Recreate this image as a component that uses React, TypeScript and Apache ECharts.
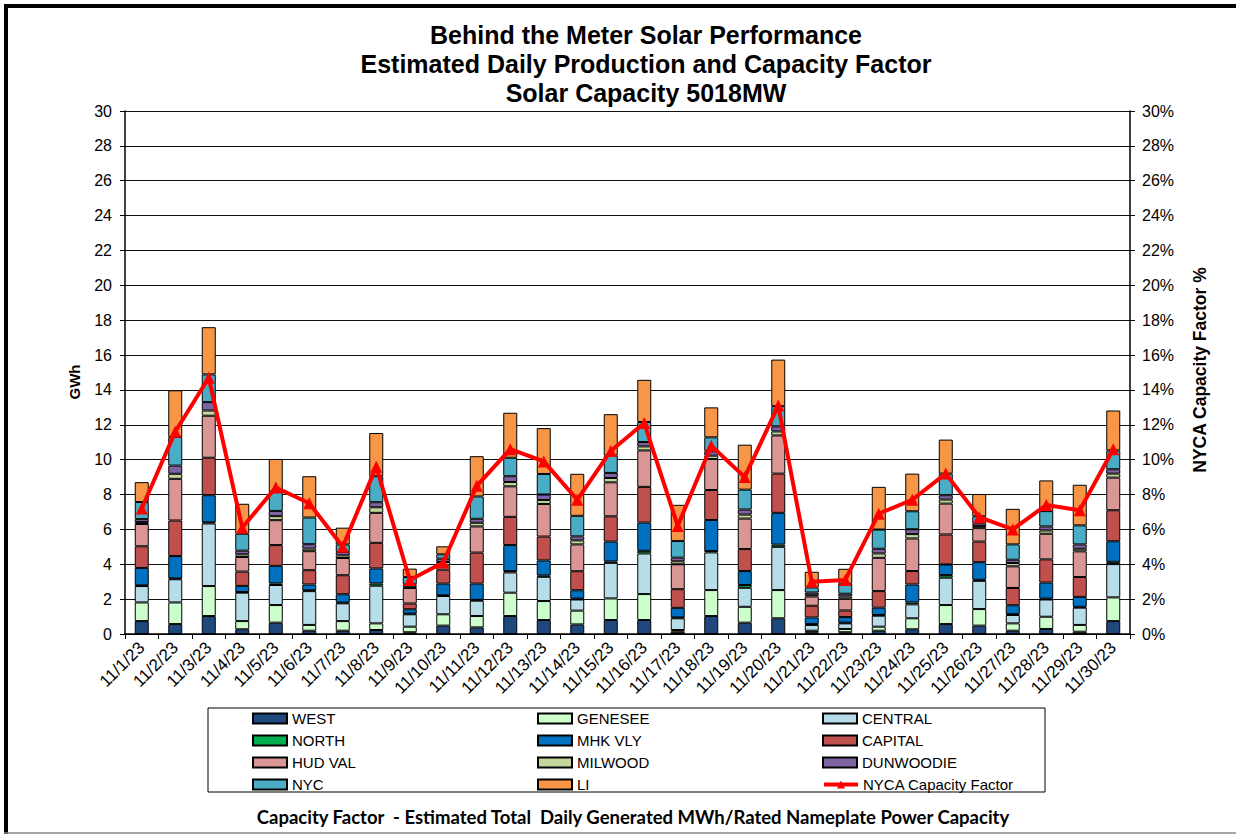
import React, { useEffect, useRef } from "react";
import * as echarts from "echarts";

const categories = [
  "11/1/23","11/2/23","11/3/23","11/4/23","11/5/23","11/6/23","11/7/23","11/8/23","11/9/23","11/10/23",
  "11/11/23","11/12/23","11/13/23","11/14/23","11/15/23","11/16/23","11/17/23","11/18/23","11/19/23","11/20/23",
  "11/21/23","11/22/23","11/23/23","11/24/23","11/25/23","11/26/23","11/27/23","11/28/23","11/29/23","11/30/23",
];

const WEST = [0.74,0.57,1.03,0.27,0.65,0.19,0.19,0.23,0.10,0.48,0.38,1.03,0.80,0.55,0.80,0.80,0.13,1.03,0.65,0.90,0.10,0.10,0.19,0.27,0.57,0.48,0.19,0.29,0.13,0.74];
const GENESEE = [1.07,1.24,1.72,0.47,1.01,0.33,0.55,0.38,0.32,0.65,0.65,1.34,1.09,0.79,1.24,1.49,0.10,1.49,0.91,1.62,0.09,0.19,0.23,0.63,1.09,0.95,0.42,0.70,0.39,1.36];
const CENTRAL = [0.94,1.33,3.59,1.63,1.15,1.94,1.02,2.16,0.71,1.05,0.88,1.16,1.39,0.64,2.04,2.33,0.67,2.16,1.09,2.48,0.33,0.32,0.63,0.80,1.57,1.62,0.48,0.99,0.99,1.91];
const NORTH = [0.04,0.05,0.07,0.04,0.09,0.05,0.04,0.13,0.04,0.04,0.05,0.08,0.08,0.05,0.08,0.15,0.05,0.08,0.16,0.13,0.05,0.04,0.04,0.11,0.15,0.06,0.05,0.05,0.05,0.13];
const MHK_VLY = [1.00,1.28,1.55,0.35,1.01,0.33,0.48,0.86,0.25,0.67,0.93,1.49,0.86,0.48,1.14,1.62,0.55,1.78,0.80,1.82,0.38,0.32,0.42,1.03,0.61,1.01,0.51,0.92,0.57,1.18];
const CAPITAL = [1.24,2.04,2.15,0.82,1.19,0.82,1.09,1.47,0.33,0.80,1.78,1.62,1.37,1.09,1.45,2.05,1.07,1.72,1.26,2.25,0.67,0.38,0.95,0.77,1.72,1.18,0.99,1.33,1.14,1.78];
const HUD_VAL = [1.28,2.39,2.41,0.84,1.43,1.09,0.99,1.72,0.89,0.25,1.50,1.75,1.87,1.54,1.95,2.09,1.43,1.78,1.75,2.19,0.53,0.67,1.91,1.87,1.77,0.77,1.24,1.47,1.47,1.87];
const MILWOOD = [0.11,0.29,0.30,0.15,0.23,0.15,0.15,0.32,0.10,0.19,0.21,0.25,0.23,0.23,0.25,0.23,0.17,0.19,0.23,0.23,0.10,0.13,0.25,0.25,0.23,0.12,0.19,0.19,0.15,0.23];
const DUNWOODIE = [0.17,0.47,0.48,0.21,0.30,0.25,0.19,0.29,0.11,0.19,0.23,0.33,0.31,0.23,0.29,0.25,0.21,0.25,0.29,0.29,0.13,0.16,0.27,0.28,0.25,0.16,0.19,0.23,0.25,0.25];
const NYC = [0.98,1.64,1.59,0.97,1.09,1.53,0.44,1.49,0.42,0.25,1.28,1.06,1.18,1.18,0.99,1.15,0.95,0.80,1.14,1.16,0.29,0.57,1.10,1.03,1.24,0.40,0.88,0.88,1.09,1.08];
const LI = [1.14,2.68,2.71,1.72,1.89,2.37,0.96,2.48,0.48,0.46,2.31,2.58,2.63,2.41,2.38,2.42,2.08,1.72,2.58,2.67,0.90,0.86,2.45,2.16,1.95,1.28,2.04,1.76,2.33,2.29];

const CAPACITY_FACTOR = [7.2,11.6,14.7,6.1,8.4,7.5,5.0,9.6,3.1,4.1,8.5,10.6,9.9,7.7,10.5,12.1,6.2,10.8,9.0,13.1,3.0,3.1,6.9,7.7,9.2,6.7,6.0,7.4,7.1,10.6];

const leftTicks = [0, 30, 2];
const rightTicks = [0, 30, 2];

const zones: [string, number[], string][] = [
  ["WEST", WEST, "#1F497D"],
  ["GENESEE", GENESEE, "#CCFFCC"],
  ["CENTRAL", CENTRAL, "#B7DDE8"],
  ["NORTH", NORTH, "#00B050"],
  ["MHK VLY", MHK_VLY, "#0070C0"],
  ["CAPITAL", CAPITAL, "#C0504D"],
  ["HUD VAL", HUD_VAL, "#DA9694"],
  ["MILWOOD", MILWOOD, "#C3D69B"],
  ["DUNWOODIE", DUNWOODIE, "#8064A2"],
  ["NYC", NYC, "#4BACC6"],
  ["LI", LI, "#F79646"],
];

export default function App() {
  const ref = useRef<HTMLDivElement>(null);
  useEffect(() => {
    document.body.style.margin = "0";
    if (!ref.current) return;
    const chart = echarts.init(ref.current, undefined, { renderer: "svg" });
    const font = "Arial, 'Liberation Sans', sans-serif";
    const barSeries = zones.map(([name, data, color]) => ({
      name,
      type: "bar",
      stack: "total",
      data,
      barWidth: 14,
      yAxisIndex: 0,
      itemStyle: { color, borderColor: "#000", borderWidth: 1 },
    }));
    chart.setOption({
      animation: false,
      backgroundColor: "#fff",
      textStyle: { fontFamily: font },
      grid: { left: 125, right: 106, top: 111, bottom: 200, containLabel: false },
      xAxis: {
        type: "category",
        data: categories,
        axisLine: { lineStyle: { color: "#000", width: 1.5 } },
        axisTick: { show: true, length: 5, lineStyle: { color: "#000" } },
        axisLabel: { interval: 0, rotate: 45, fontSize: 17, color: "#000", margin: 11, fontFamily: font },
      },
      yAxis: [
        {
          type: "value",
          min: leftTicks[0],
          max: leftTicks[1],
          interval: leftTicks[2],
          axisLine: { show: true, lineStyle: { color: "#000", width: 1.5 } },
          axisTick: { show: true, length: 5, lineStyle: { color: "#000" } },
          axisLabel: { fontSize: 16, color: "#000", margin: 13, fontFamily: font },
          splitLine: { show: true, lineStyle: { color: "#111", width: 1 } },
        },
        {
          type: "value",
          min: rightTicks[0],
          max: rightTicks[1],
          interval: rightTicks[2],
          position: "right",
          axisLine: { show: true, lineStyle: { color: "#000", width: 1.5 } },
          axisTick: { show: true, length: 5, lineStyle: { color: "#000" } },
          axisLabel: { fontSize: 16, color: "#000", margin: 12, formatter: "{value}%", fontFamily: font },
          splitLine: { show: false },
        },
      ],
      legend: {
        left: 252,
        top: 711,
        width: 870,
        orient: "horizontal",
        itemWidth: 34,
        itemHeight: 10,
        itemGap: 7,
        padding: 0,
        textStyle: { fontSize: 15, color: "#000", width: 238, lineHeight: 12, fontFamily: font },
        data: [
          ...zones.map((z) => ({ name: z[0], icon: "rect" })),
          { name: "NYCA Capacity Factor", lineStyle: { width: 4 } },
        ],
      },
      series: [
        ...barSeries,
        {
          name: "NYCA Capacity Factor",
          type: "line",
          yAxisIndex: 1,
          data: CAPACITY_FACTOR,
          symbol: "triangle",
          symbolSize: 12,
          lineStyle: { color: "#FF0000", width: 4 },
          itemStyle: { color: "#FF0000" },
          z: 10,
        },
      ],
      graphic: [
        { type: "line", shape: { x1: 6, y1: 4, x2: 6, y2: 834 }, style: { stroke: "#000", lineWidth: 4 } },
        { type: "line", shape: { x1: 4, y1: 6, x2: 1236, y2: 6 }, style: { stroke: "#000", lineWidth: 4 } },
        { type: "line", shape: { x1: 4, y1: 833, x2: 1236, y2: 833 }, style: { stroke: "#888", lineWidth: 1.5 } },
        {
          type: "rect",
          shape: { x: 208, y: 708, width: 837, height: 84 },
          style: { fill: "none", stroke: "#000", lineWidth: 1 },
          z: -1,
        },
        {
          type: "text",
          x: 646,
          y: 20,
          style: {
            text: "Behind the Meter Solar Performance\nEstimated Daily Production and Capacity Factor\nSolar Capacity 5018MW",
            font: `bold 25px ${font}`,
            fill: "#000",
            align: "center",
            verticalAlign: "top",
            lineHeight: 29,
          },
        },
        {
          type: "text",
          x: 74,
          y: 382,
          rotation: Math.PI / 2,
          style: { text: "GWh", font: `bold 15px ${font}`, fill: "#000", align: "center", verticalAlign: "middle" },
        },
        {
          type: "text",
          x: 1200,
          y: 370,
          rotation: Math.PI / 2,
          style: { text: "NYCA Capacity Factor %", font: `bold 17.5px ${font}`, fill: "#000", align: "center", verticalAlign: "middle" },
        },
        {
          type: "text",
          x: 633,
          y: 817,
          style: {
            text: "Capacity Factor  - Estimated Total  Daily Generated MWh/Rated Nameplate Power Capacity",
            font: `bold 18.5px Lato, 'Open Sans', sans-serif`,
            fill: "#000",
            align: "center",
            verticalAlign: "middle",
          },
        },
      ],
    });
    return () => chart.dispose();
  }, []);
  return <div ref={ref} style={{ width: 1236, height: 834 }} />;
}
